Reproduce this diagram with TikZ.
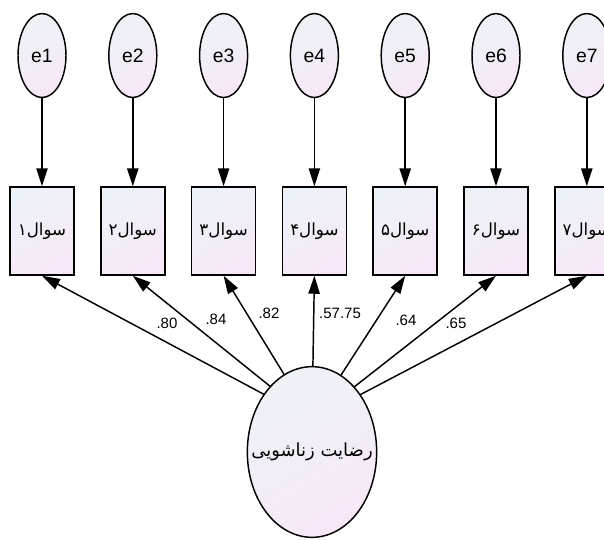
\documentclass[tikz,border=0pt]{standalone}
\usepackage{fontspec}
\setmainfont{Liberation Sans}
\newfontfamily\farsifont[Script=Arabic]{DejaVu Sans}
\TeXXeTstate=1
\usepackage{tikz}
\usetikzlibrary{positioning, shapes, arrows.meta}
\definecolor{amostop}{rgb}{0.93, 0.95, 0.97}
\definecolor{amosbottom}{rgb}{0.97, 0.91, 0.97}

\begin{document}
\begin{tikzpicture}[x=0.75pt, y=-0.75pt]
		\tikzstyle{errc}=[ellipse, draw=black, line width=1.1pt, minimum width=36pt, minimum height=63pt, inner sep=0pt, top color=amostop, bottom color=amosbottom, shading angle=30, font=\fontsize{14.5}{16}\selectfont]
		\tikzstyle{obsr}=[draw=black, line width=1.1pt, minimum width=48pt, minimum height=66pt, inner sep=0pt, top color=amostop, bottom color=amosbottom, shading angle=30, font=\farsifont\fontsize{12.5}{14}\selectfont]
		\tikzstyle{latc}=[ellipse, draw=black, line width=1.1pt, minimum width=97pt, minimum height=128pt, inner sep=0pt, top color=amostop, bottom color=amosbottom, shading angle=30, font=\farsifont\fontsize{13.5}{15}\selectfont]
		\tikzstyle{regarrow}=[line width=1.1pt, -{Triangle[length=13.5pt, width=8.5pt]}]
		\tikzstyle{coef}=[inner sep=1pt, font=\fontsize{11.25}{13}\selectfont]
		
		\useasboundingbox (0,0) rectangle (604,540);
		\clip (0,0) rectangle (604,540);
		
		\node [obsr](q1) at (42,231) {\beginR سوال۱\endR};
		\node [right=19pt of q1, obsr](q2) {\beginR سوال۲\endR};
		\node [right=19pt of q2, obsr](q3) {\beginR سوال۳\endR};
		\node [right=19pt of q3, obsr](q4) {\beginR سوال۴\endR};
		\node [right=19pt of q4, obsr](q5) {\beginR سوال۵\endR};
		\node [right=19pt of q5, obsr](q6) {\beginR سوال۶\endR};
		\node [right=19pt of q6, obsr](q7) {\beginR سوال۷\endR};
		
		\node [above=66pt of q1, errc](e1) {e1};
		\node [above=66pt of q2, errc](e2) {e2};
		\node [above=66pt of q3, errc](e3) {e3};
		\node [above=66pt of q4, errc](e4) {e4};
		\node [above=66pt of q5, errc](e5) {e5};
		\node [above=66pt of q6, errc](e6) {e6};
		\node [above=66pt of q7, errc](e7) {e7};
		
		\draw [regarrow] (e1)--(q1);
		\draw [regarrow] (e2)--(q2);
		\draw [regarrow] (e3)--(q3);
		\draw [regarrow] (e4)--(q4);
		\draw [regarrow] (e5)--(q5);
		\draw [regarrow] (e6)--(q6);
		\draw [regarrow] (e7)--(q7);
		
		%% loadings, drawn before the latent so it covers their tails
		\coordinate (hub) at (312,420);
		\draw [regarrow] (hub)--(q1.south);
		\draw [regarrow] (hub)--(q2.south);
		\draw [regarrow] (hub)--(q3.south);
		\draw [regarrow] (hub)--(q4.south);
		\draw [regarrow] (hub)--(q5.south);
		\draw [regarrow] (hub)--(q6.south);
		\draw [regarrow] (hub)--(q7.south);
		
		\node (sat) at (312,452) [latc] {\makebox[0pt]{\beginR رضایت زناشویی\endR}};
		
		\node [coef](c1) at (167,323) {.80};
		\node [coef](c2) at (216,319) {.84};
		\node [coef](c3) at (269,313) {.82};
		\node [coef](c4) at (340,313) {.57.75};
		\node [coef](c5) at (406,320) {.64};
		\node [coef](c6) at (456,323) {.65};
\end{tikzpicture}
\end{document}
